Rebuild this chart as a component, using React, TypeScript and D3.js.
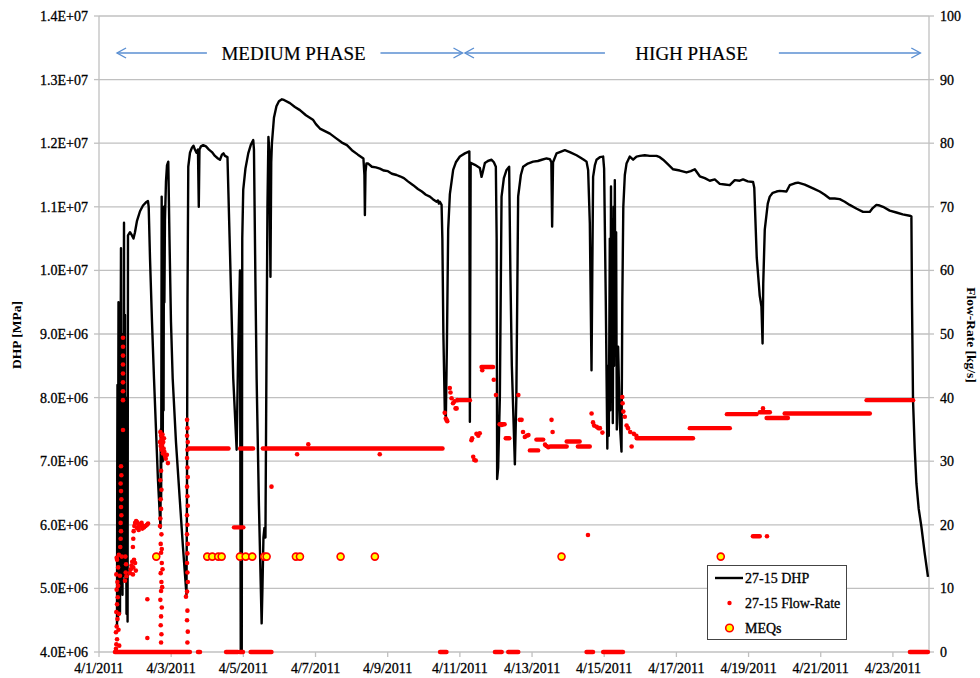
import React from "react";
import * as d3 from "d3";

// ---- time frame -------------------------------------------------------
const START = new Date(2011, 3, 1);
const END = new Date(2011, 3, 24);
const DAY_MS = 864e5;

// x-axis tick labels (every second day)
const xTickLabels = [
  "4/1/2011", "4/3/2011", "4/5/2011", "4/7/2011", "4/9/2011", "4/11/2011",
  "4/13/2011", "4/15/2011", "4/17/2011", "4/19/2011", "4/21/2011", "4/23/2011",
];

// primary axis (downhole pressure) and secondary axis (flow rate) ticks
const dhpTicks = [4e6, 5e6, 6e6, 7e6, 8e6, 9e6, 10e6, 11e6, 12e6, 13e6, 14e6];
const flowTicks = [0, 10, 20, 30, 40, 50, 60, 70, 80, 90, 100];

// 27-15 DHP: [elapsed days since 4/1/2011, pressure in units of 1e6]
const dhpSeries: [number, number][] = [
  [0.457, 4.42], [0.499, 4.42], [0.506, 7.0], [0.512, 8.2], [0.519, 5.4], [0.526, 4.5],
  [0.533, 7.6], [0.54, 9.5], [0.547, 6.1], [0.554, 4.7], [0.561, 8.1], [0.568, 8.8],
  [0.575, 5.6], [0.582, 4.6], [0.595, 7.9], [0.609, 10.35], [0.616, 6.8], [0.623, 5.0],
  [0.63, 8.4], [0.637, 9.0], [0.644, 6.2], [0.651, 4.9], [0.658, 7.7], [0.665, 8.6],
  [0.672, 6.0], [0.679, 5.2], [0.686, 8.9], [0.693, 10.75], [0.699, 7.2], [0.706, 5.3],
  [0.713, 8.1], [0.72, 9.3], [0.727, 6.6], [0.734, 5.1], [0.741, 7.3], [0.748, 8.0],
  [0.755, 5.9], [0.762, 4.6], [0.771, 6.8], [0.781, 7.5], [0.786, 5.6], [0.792, 4.48],
  [0.803, 10.55], [0.859, 10.6],
  [0.914, 10.55], [0.956, 10.5], [0.997, 10.6], [1.053, 10.78], [1.136, 10.93], [1.219, 11.02],
  [1.302, 11.07], [1.357, 11.09], [1.377, 11.0], [1.413, 10.2], [1.468, 9.2], [1.524, 8.3],
  [1.579, 7.5], [1.634, 6.7], [1.704, 5.95], [1.712, 7.5], [1.723, 6.4], [1.737, 11.16],
  [1.745, 8.0], [1.756, 10.9], [1.767, 7.0], [1.778, 10.5], [1.789, 7.8], [1.801, 11.0],
  [1.812, 9.5], [1.828, 10.8], [1.856, 11.4], [1.884, 11.65], [1.92, 11.71], [1.953, 10.5],
  [1.994, 9.2], [2.042, 8.3], [2.133, 7.3], [2.244, 6.35], [2.327, 5.65], [2.424, 4.9],
  [2.438, 6.5], [2.452, 9.5], [2.474, 11.63], [2.521, 11.85], [2.576, 11.93], [2.618, 11.96],
  [2.659, 11.9], [2.701, 11.85], [2.742, 11.9], [2.765, 11.0], [2.784, 11.9], [2.825, 11.95],
  [2.889, 11.97], [2.964, 11.95], [3.047, 11.9], [3.13, 11.86], [3.213, 11.8], [3.296, 11.76],
  [3.352, 11.74], [3.407, 11.82], [3.449, 11.84], [3.49, 11.8], [3.56, 11.78], [3.629, 10.3],
  [3.72, 8.3], [3.814, 7.18], [3.85, 8.5], [3.906, 10.0], [3.928, 4.0], [3.942, 9.8],
  [3.956, 4.0], [3.97, 10.5], [3.997, 11.27], [4.058, 11.6], [4.136, 11.84], [4.211, 11.98],
  [4.274, 12.05], [4.294, 11.9], [4.335, 9.8], [4.368, 8.3], [4.432, 6.3], [4.507, 4.45],
  [4.529, 5.0], [4.557, 5.8], [4.584, 5.95], [4.612, 5.8], [4.64, 8.5], [4.668, 11.0],
  [4.695, 12.1], [4.717, 11.9], [4.751, 9.9], [4.773, 11.7], [4.792, 12.0], [4.848, 12.4],
  [4.917, 12.58], [4.986, 12.66], [5.069, 12.69], [5.125, 12.68], [5.291, 12.63], [5.429, 12.57],
  [5.568, 12.52], [5.734, 12.44], [5.928, 12.37], [6.011, 12.3], [6.122, 12.23], [6.26, 12.19],
  [6.399, 12.15], [6.565, 12.08], [6.731, 12.01], [6.87, 11.97], [7.008, 11.89], [7.175, 11.82],
  [7.327, 11.76], [7.355, 11.5], [7.368, 10.87], [7.385, 11.55], [7.41, 11.68], [7.46, 11.68],
  [7.562, 11.63], [7.673, 11.62], [7.784, 11.6], [7.895, 11.57], [8.006, 11.56], [8.116, 11.52],
  [8.247, 11.5], [8.338, 11.48], [8.449, 11.45], [8.56, 11.4], [8.706, 11.34], [8.837, 11.28],
  [8.947, 11.24], [9.058, 11.19], [9.169, 11.16], [9.252, 11.12], [9.355, 11.08], [9.391, 11.1],
  [9.418, 11.05], [9.446, 11.08], [9.493, 11.03], [9.515, 10.5], [9.543, 9.0], [9.584, 7.75],
  [9.612, 7.7], [9.64, 8.8], [9.676, 10.64], [9.723, 11.2], [9.814, 11.58], [9.889, 11.7],
  [10.0, 11.79], [10.139, 11.84], [10.263, 11.87], [10.277, 7.62], [10.299, 11.69], [10.416, 11.66],
  [10.554, 11.61], [10.601, 11.47], [10.637, 11.55], [10.693, 11.69], [10.776, 11.72], [10.878, 11.74],
  [10.942, 11.7], [10.997, 11.63], [11.019, 10.5], [11.033, 6.72], [11.061, 6.9], [11.108, 8.0],
  [11.155, 11.16], [11.219, 11.45], [11.294, 11.58], [11.366, 11.63], [11.399, 10.0], [11.44, 8.5],
  [11.524, 6.95], [11.565, 8.0], [11.615, 11.16], [11.69, 11.5], [11.753, 11.63], [11.884, 11.68],
  [12.03, 11.71], [12.161, 11.72], [12.271, 11.74], [12.402, 11.76], [12.493, 11.75], [12.535, 11.7],
  [12.557, 10.69], [12.582, 11.7], [12.679, 11.84], [12.77, 11.86], [12.909, 11.89], [13.047, 11.86],
  [13.233, 11.81], [13.324, 11.78], [13.435, 11.74], [13.51, 11.71], [13.554, 11.58], [13.601, 10.74],
  [13.648, 8.43], [13.67, 10.0], [13.692, 11.47], [13.74, 11.65], [13.787, 11.74], [13.878, 11.78],
  [13.97, 11.79], [13.997, 11.6], [14.044, 9.5], [14.086, 7.2], [14.108, 8.5], [14.127, 7.4],
  [14.155, 10.5], [14.169, 7.8], [14.188, 11.32], [14.205, 8.2], [14.224, 10.8], [14.238, 7.6],
  [14.26, 11.0], [14.274, 8.5], [14.294, 11.42], [14.31, 9.0], [14.33, 10.6], [14.349, 7.5],
  [14.385, 8.8], [14.432, 7.6], [14.479, 7.15], [14.501, 9.5], [14.529, 11.0], [14.571, 11.5],
  [14.618, 11.68], [14.709, 11.79], [14.801, 11.74], [14.895, 11.79], [14.986, 11.8], [15.125, 11.81],
  [15.263, 11.8], [15.449, 11.8], [15.54, 11.78], [15.632, 11.74], [15.762, 11.67], [15.909, 11.59],
  [16.094, 11.57], [16.28, 11.54], [16.399, 11.56], [16.51, 11.59], [16.648, 11.48], [16.787, 11.45],
  [16.925, 11.41], [17.064, 11.43], [17.202, 11.36], [17.341, 11.35], [17.479, 11.34], [17.618, 11.42],
  [17.756, 11.41], [17.848, 11.43], [17.978, 11.4], [18.125, 11.39], [18.158, 11.3], [18.227, 10.2],
  [18.31, 9.6], [18.357, 9.43], [18.388, 8.85], [18.407, 9.8], [18.449, 10.64], [18.532, 11.05],
  [18.587, 11.16], [18.67, 11.22], [18.773, 11.24], [18.864, 11.25], [19.05, 11.24], [19.141, 11.34],
  [19.28, 11.37], [19.371, 11.38], [19.557, 11.35], [19.787, 11.29], [19.972, 11.24], [20.111, 11.19],
  [20.249, 11.13], [20.388, 11.13], [20.526, 11.12], [20.665, 11.08], [20.803, 11.03], [20.997, 10.97],
  [21.172, 10.92], [21.357, 10.92], [21.44, 10.98], [21.543, 11.03], [21.634, 11.02], [21.726, 11.0],
  [21.911, 10.94], [22.097, 10.91], [22.271, 10.88], [22.465, 10.86], [22.512, 10.85], [22.529, 9.5],
  [22.54, 8.9], [22.557, 7.96], [22.604, 7.2], [22.651, 6.65], [22.715, 6.25], [22.789, 5.97],
  [22.881, 5.55], [22.972, 5.18],
];
const DHP_UNIT = 1e6;

// 27-15 Flow-Rate, steady stretches: [from day, to day, kg/s]
const flowRuns: [number, number, number][] = [
  [0.44, 2.52, 0], [2.74, 2.8, 0], [3.52, 3.85, 0], [3.9, 3.99, 0], [4.2, 4.78, 0],
  [9.45, 9.63, 0], [10.97, 11.16, 0], [11.34, 11.62, 0], [13.51, 13.69, 0], [13.97, 14.52, 0],
  [22.47, 22.97, 0],
  [2.49, 3.59, 32.0], [3.91, 4.27, 32.0], [4.54, 9.52, 32.0], [3.74, 4.0, 19.6],
  [9.95, 10.28, 39.6], [10.6, 10.92, 44.8], [11.1, 11.24, 35.8], [11.27, 11.37, 33.6],
  [11.94, 12.17, 31.7], [12.12, 12.31, 33.4], [12.55, 12.96, 32.3], [12.96, 13.32, 33.1],
  [13.27, 13.6, 32.3], [14.9, 16.46, 33.6], [16.37, 17.48, 35.2], [17.4, 18.22, 37.4],
  [18.12, 18.31, 18.2], [18.31, 18.59, 37.7], [18.5, 19.09, 36.8], [19.0, 21.36, 37.5],
  [21.27, 22.56, 39.6],
];

// 27-15 Flow-Rate, individual readings: [day, kg/s]
const flowPoints: [number, number][] = [
  [0.47, 0.5], [0.48, 1.2], [0.5, 2.0], [0.47, 3.1], [0.49, 4.0], [0.51, 5.2], [0.48, 6.3],
  [0.5, 7.5], [0.52, 8.6], [0.49, 9.8], [0.51, 11.0], [0.48, 12.2], [0.53, 13.3], [0.5, 14.5],
  [0.55, 15.3], [0.49, 14.8], [0.53, 10.4], [0.55, 6.0], [0.54, 3.5], [0.56, 1.0],
  [0.59, 16.5], [0.6, 17.8], [0.61, 19.0], [0.6, 20.3], [0.62, 21.5], [0.61, 22.8], [0.62, 24.0],
  [0.61, 25.3], [0.6, 26.5], [0.62, 27.8], [0.61, 29.2], [0.63, 15.0], [0.58, 12.0],
  [0.665, 49.4], [0.665, 48.0], [0.665, 46.6], [0.665, 45.2], [0.665, 43.8], [0.665, 42.4],
  [0.665, 41.0], [0.665, 39.6], [0.665, 34.9],
  [0.72, 11.2], [0.74, 12.5], [0.75, 13.8], [0.73, 15.0], [0.76, 11.9],
  [0.86, 12.4], [0.88, 13.0], [0.9, 13.6], [0.92, 14.2], [0.95, 13.3], [0.97, 14.5], [1.0, 14.0],
  [1.02, 12.8], [0.94, 12.2],
  [0.94, 16.5], [0.95, 17.8], [0.96, 19.0], [0.98, 19.8], [1.0, 20.3], [1.03, 20.6], [1.06, 20.4],
  [1.09, 20.0], [1.12, 19.8], [1.15, 20.1], [1.18, 20.3], [1.21, 19.9], [1.25, 19.6], [1.29, 19.8],
  [1.33, 20.0], [1.36, 20.2], [1.05, 19.5], [1.1, 19.2], [1.2, 19.4],
  [1.34, 8.3], [1.34, 2.2],
  [1.7, 34.6], [1.72, 34.0], [1.74, 33.4], [1.76, 34.2], [1.78, 33.0], [1.71, 32.4], [1.73, 31.8],
  [1.75, 32.6], [1.77, 31.2], [1.79, 32.0], [1.81, 31.5], [1.83, 30.8], [1.8, 33.6], [1.69, 33.0],
  [1.85, 30.4], [1.88, 31.0], [1.91, 29.7],
  [1.72, 28.5], [1.7, 27.0], [1.73, 25.5], [1.71, 24.0], [1.72, 22.5], [1.7, 21.0], [1.73, 18.5],
  [1.71, 17.0], [1.72, 15.6], [1.74, 14.0], [1.71, 12.4], [1.73, 11.0], [1.72, 9.6], [1.7, 8.2],
  [1.74, 7.0], [1.72, 5.6], [1.71, 4.2], [1.73, 2.8], [1.72, 1.5], [1.75, 10.2], [1.76, 13.0],
  [1.69, 19.8], [1.74, 16.2],
  [2.44, 36.5], [2.45, 35.2], [2.44, 34.0], [2.46, 33.0], [2.45, 31.8], [2.44, 30.5], [2.45, 29.0],
  [2.46, 27.5], [2.44, 26.0], [2.45, 24.5], [2.46, 23.0], [2.44, 21.5], [2.45, 20.0], [2.44, 18.5],
  [2.46, 17.0], [2.45, 15.5], [2.44, 14.0], [2.45, 12.5], [2.46, 11.0], [2.44, 9.5], [2.41, 8.7],
  [2.45, 6.5], [2.44, 5.0], [2.46, 3.2], [2.45, 1.5],
  [4.78, 26.0], [5.49, 31.1], [5.8, 32.65], [7.78, 31.1],
  [9.58, 37.6], [9.61, 36.7], [9.63, 36.5], [9.65, 36.3], [9.72, 41.5], [9.74, 40.8], [9.77, 39.9],
  [9.81, 39.1], [9.85, 39.4], [9.88, 38.3], [9.91, 38.3], [9.93, 39.6],
  [10.32, 33.3], [10.34, 33.6], [10.37, 30.7], [10.4, 30.2], [10.44, 30.1], [10.46, 34.3],
  [10.51, 34.0], [10.55, 34.4], [10.62, 44.3], [10.94, 42.8], [11.0, 40.4], [11.16, 35.7],
  [11.62, 40.4], [11.66, 36.5], [11.71, 36.5], [11.75, 34.6], [11.8, 33.8], [11.85, 34.0],
  [11.9, 34.1], [12.36, 32.6], [12.4, 32.4], [12.45, 32.2], [12.54, 36.5], [12.57, 34.6],
  [12.5, 32.3], [13.55, 18.4],
  [13.65, 37.5], [13.69, 36.1], [13.72, 35.6], [13.79, 35.4], [13.84, 35.2], [13.88, 35.2],
  [13.95, 34.5], [14.5, 40.1], [14.51, 39.1], [14.53, 37.8], [14.57, 37.0], [14.62, 35.6],
  [14.66, 35.2], [14.72, 34.6], [14.76, 32.3], [14.82, 34.3], [14.89, 34.0],
  [18.4, 38.3], [18.51, 18.2],
];

// microearthquakes (elapsed days), drawn at a fixed reference level
const meqDays = [
  1.587, 3.0, 3.139, 3.305, 3.399, 3.906, 4.064, 4.247, 4.579, 4.645, 5.457, 5.568,
  6.695, 7.645, 12.817, 17.23,
];
const MEQ_LEVEL = 5.5e6;

// injection phases (elapsed days)
const phaseStart = 0.5;
const phaseSwitch = 10.1;
const phaseEnd = 22.76;

// ---- layout -----------------------------------------------------------
const W = 980;
const H = 678;
const plot = { left: 99, right: 929, top: 16, bottom: 652 };
const FONT = "'Liberation Serif', 'Times New Roman', serif";
const GRID = "#c0c0c0";
const RED = "#ff0000";
const ARROW = "#5b8fd2";
// slight outline on text so the serif labels read with the weight of the print
const INK = { stroke: "#000", strokeWidth: 0.3 };

const toDate = (d: number) => new Date(START.getTime() + d * DAY_MS);

function sci(v: number): string {
  const e = Math.floor(Math.log10(v));
  const m = v / Math.pow(10, e);
  return `${m.toFixed(1)}E+${String(e).padStart(2, "0")}`;
}

function parseLabel(s: string): Date {
  const [m, d, y] = s.split("/").map(Number);
  return new Date(y, m - 1, d);
}

export default function App() {
  const x = d3.scaleTime().domain([START, END]).range([plot.left, plot.right]);
  const yL = d3.scaleLinear().domain([4e6, 14e6]).range([plot.bottom, plot.top]);
  const yR = d3.scaleLinear().domain([0, 100]).range([plot.bottom, plot.top]);

  const dhpPath = d3
    .line<[number, number]>()
    .x((p) => x(toDate(p[0])))
    .y((p) => yL(p[1] * DHP_UNIT))(dhpSeries) as string;

  const meqY = yL(MEQ_LEVEL);
  const arrowY = 53;

  const arrow = (x1: number, x2: number, key: string) => {
    // line from x1 to x2, head at x2
    const dir = x2 > x1 ? -1 : 1;
    return (
      <g key={key} stroke={ARROW} strokeWidth={1.4} fill="none">
        <line x1={x1} y1={arrowY} x2={x2} y2={arrowY} />
        <polyline
          points={`${x2 + dir * 9},${arrowY - 5} ${x2},${arrowY} ${x2 + dir * 9},${arrowY + 5}`}
        />
      </g>
    );
  };

  return (
    <svg
      width={W}
      height={H}
      viewBox={`0 0 ${W} ${H}`}
      style={{ position: "absolute", left: 0, top: 0, background: "#fff" }}
      fontFamily={FONT}
    >
      <rect x={0} y={0} width={W} height={H} fill="#fff" />

      {/* horizontal gridlines */}
      {dhpTicks.map((t) => (
        <line key={`g${t}`} x1={plot.left} x2={plot.right} y1={yL(t)} y2={yL(t)} stroke={GRID} strokeWidth={1.3} />
      ))}
      {/* axis lines */}
      <line x1={plot.left} x2={plot.left} y1={plot.top} y2={plot.bottom} stroke={GRID} strokeWidth={1.3} />
      <line x1={plot.right} x2={plot.right} y1={plot.top} y2={plot.bottom} stroke={GRID} strokeWidth={1.3} />

      {/* left ticks + labels */}
      {dhpTicks.map((t) => (
        <g key={`l${t}`}>
          <line x1={plot.left - 5} x2={plot.left} y1={yL(t)} y2={yL(t)} stroke={GRID} strokeWidth={1.3} />
          <text x={88} y={yL(t)} dy="0.35em" textAnchor="end" fontSize={14} {...INK}>
            {sci(t)}
          </text>
        </g>
      ))}
      {/* right ticks + labels */}
      {flowTicks.map((t) => (
        <g key={`r${t}`}>
          <line x1={plot.right} x2={plot.right + 5} y1={yR(t)} y2={yR(t)} stroke={GRID} strokeWidth={1.3} />
          <text x={940} y={yR(t)} dy="0.35em" textAnchor="start" fontSize={14} {...INK}>
            {t}
          </text>
        </g>
      ))}
      {/* bottom ticks + labels */}
      {xTickLabels.map((s) => {
        const px = x(parseLabel(s));
        return (
          <g key={s}>
            <line x1={px} x2={px} y1={plot.bottom} y2={plot.bottom + 5} stroke={GRID} strokeWidth={1.3} />
            <text x={px} y={668} dy="0.35em" textAnchor="middle" fontSize={14} {...INK}>
              {s}
            </text>
          </g>
        );
      })}

      {/* axis titles */}
      <text
        transform={`translate(16, ${(plot.top + plot.bottom) / 2 + 1}) rotate(-90)`}
        textAnchor="middle"
        dy="0.35em"
        fontSize={13.5}
        fontWeight="bold"
      >
        DHP [MPa]
      </text>
      <text
        transform={`translate(972, ${(plot.top + plot.bottom) / 2 + 1}) rotate(90)`}
        textAnchor="middle"
        dy="0.35em"
        fontSize={13.5}
        fontWeight="bold"
      >
        Flow-Rate [kg/s]
      </text>

      {/* phase annotations */}
      {arrow(x(toDate(2.99)), x(toDate(phaseStart)), "a1")}
      {arrow(x(toDate(7.8)), x(toDate(phaseSwitch)) - 1, "a2")}
      {arrow(x(toDate(14.02)), x(toDate(phaseSwitch)) + 1.5, "a3")}
      {arrow(x(toDate(18.84)), x(toDate(phaseEnd)), "a4")}
      <text x={x(toDate(5.39))} y={53} dy="0.35em" textAnchor="middle" fontSize={19} {...INK} strokeWidth={0.2}>
        MEDIUM PHASE
      </text>
      <text x={x(toDate(16.42))} y={53} dy="0.35em" textAnchor="middle" fontSize={19} {...INK} strokeWidth={0.2}>
        HIGH PHASE
      </text>

      {/* DHP line */}
      <path d={dhpPath} fill="none" stroke="#000" strokeWidth={2.4} strokeLinejoin="round" />

      {/* flow-rate readings */}
      {flowRuns.map((r, i) => (
        <line
          key={`fr${i}`}
          x1={x(toDate(r[0]))}
          x2={x(toDate(r[1]))}
          y1={yR(r[2])}
          y2={yR(r[2])}
          stroke={RED}
          strokeWidth={4.4}
          strokeLinecap="round"
        />
      ))}
      {flowPoints.map((p, i) => (
        <circle key={`fp${i}`} cx={x(toDate(p[0]))} cy={yR(p[1])} r={2.3} fill={RED} />
      ))}

      {/* MEQs */}
      {meqDays.map((d, i) => (
        <circle key={`m${i}`} cx={x(toDate(d))} cy={meqY} r={3.5} fill="#ffff00" stroke={RED} strokeWidth={1.6} />
      ))}

      {/* legend */}
      <g>
        <rect x={707.5} y={565.5} width={139} height={74} fill="#fff" stroke="#444" strokeWidth={1} />
        <line x1={715} x2={743} y1={578} y2={578} stroke="#000" strokeWidth={2.4} />
        <text x={745} y={578} dy="0.35em" fontSize={14} {...INK}>
          27-15 DHP
        </text>
        <circle cx={729.5} cy={603} r={2.2} fill={RED} />
        <text x={745} y={603} dy="0.35em" fontSize={14} {...INK}>
          27-15 Flow-Rate
        </text>
        <circle cx={729.5} cy={628} r={3.8} fill="#ffff00" stroke={RED} strokeWidth={1.6} />
        <text x={745} y={628} dy="0.35em" fontSize={14} {...INK}>
          MEQs
        </text>
      </g>
    </svg>
  );
}
